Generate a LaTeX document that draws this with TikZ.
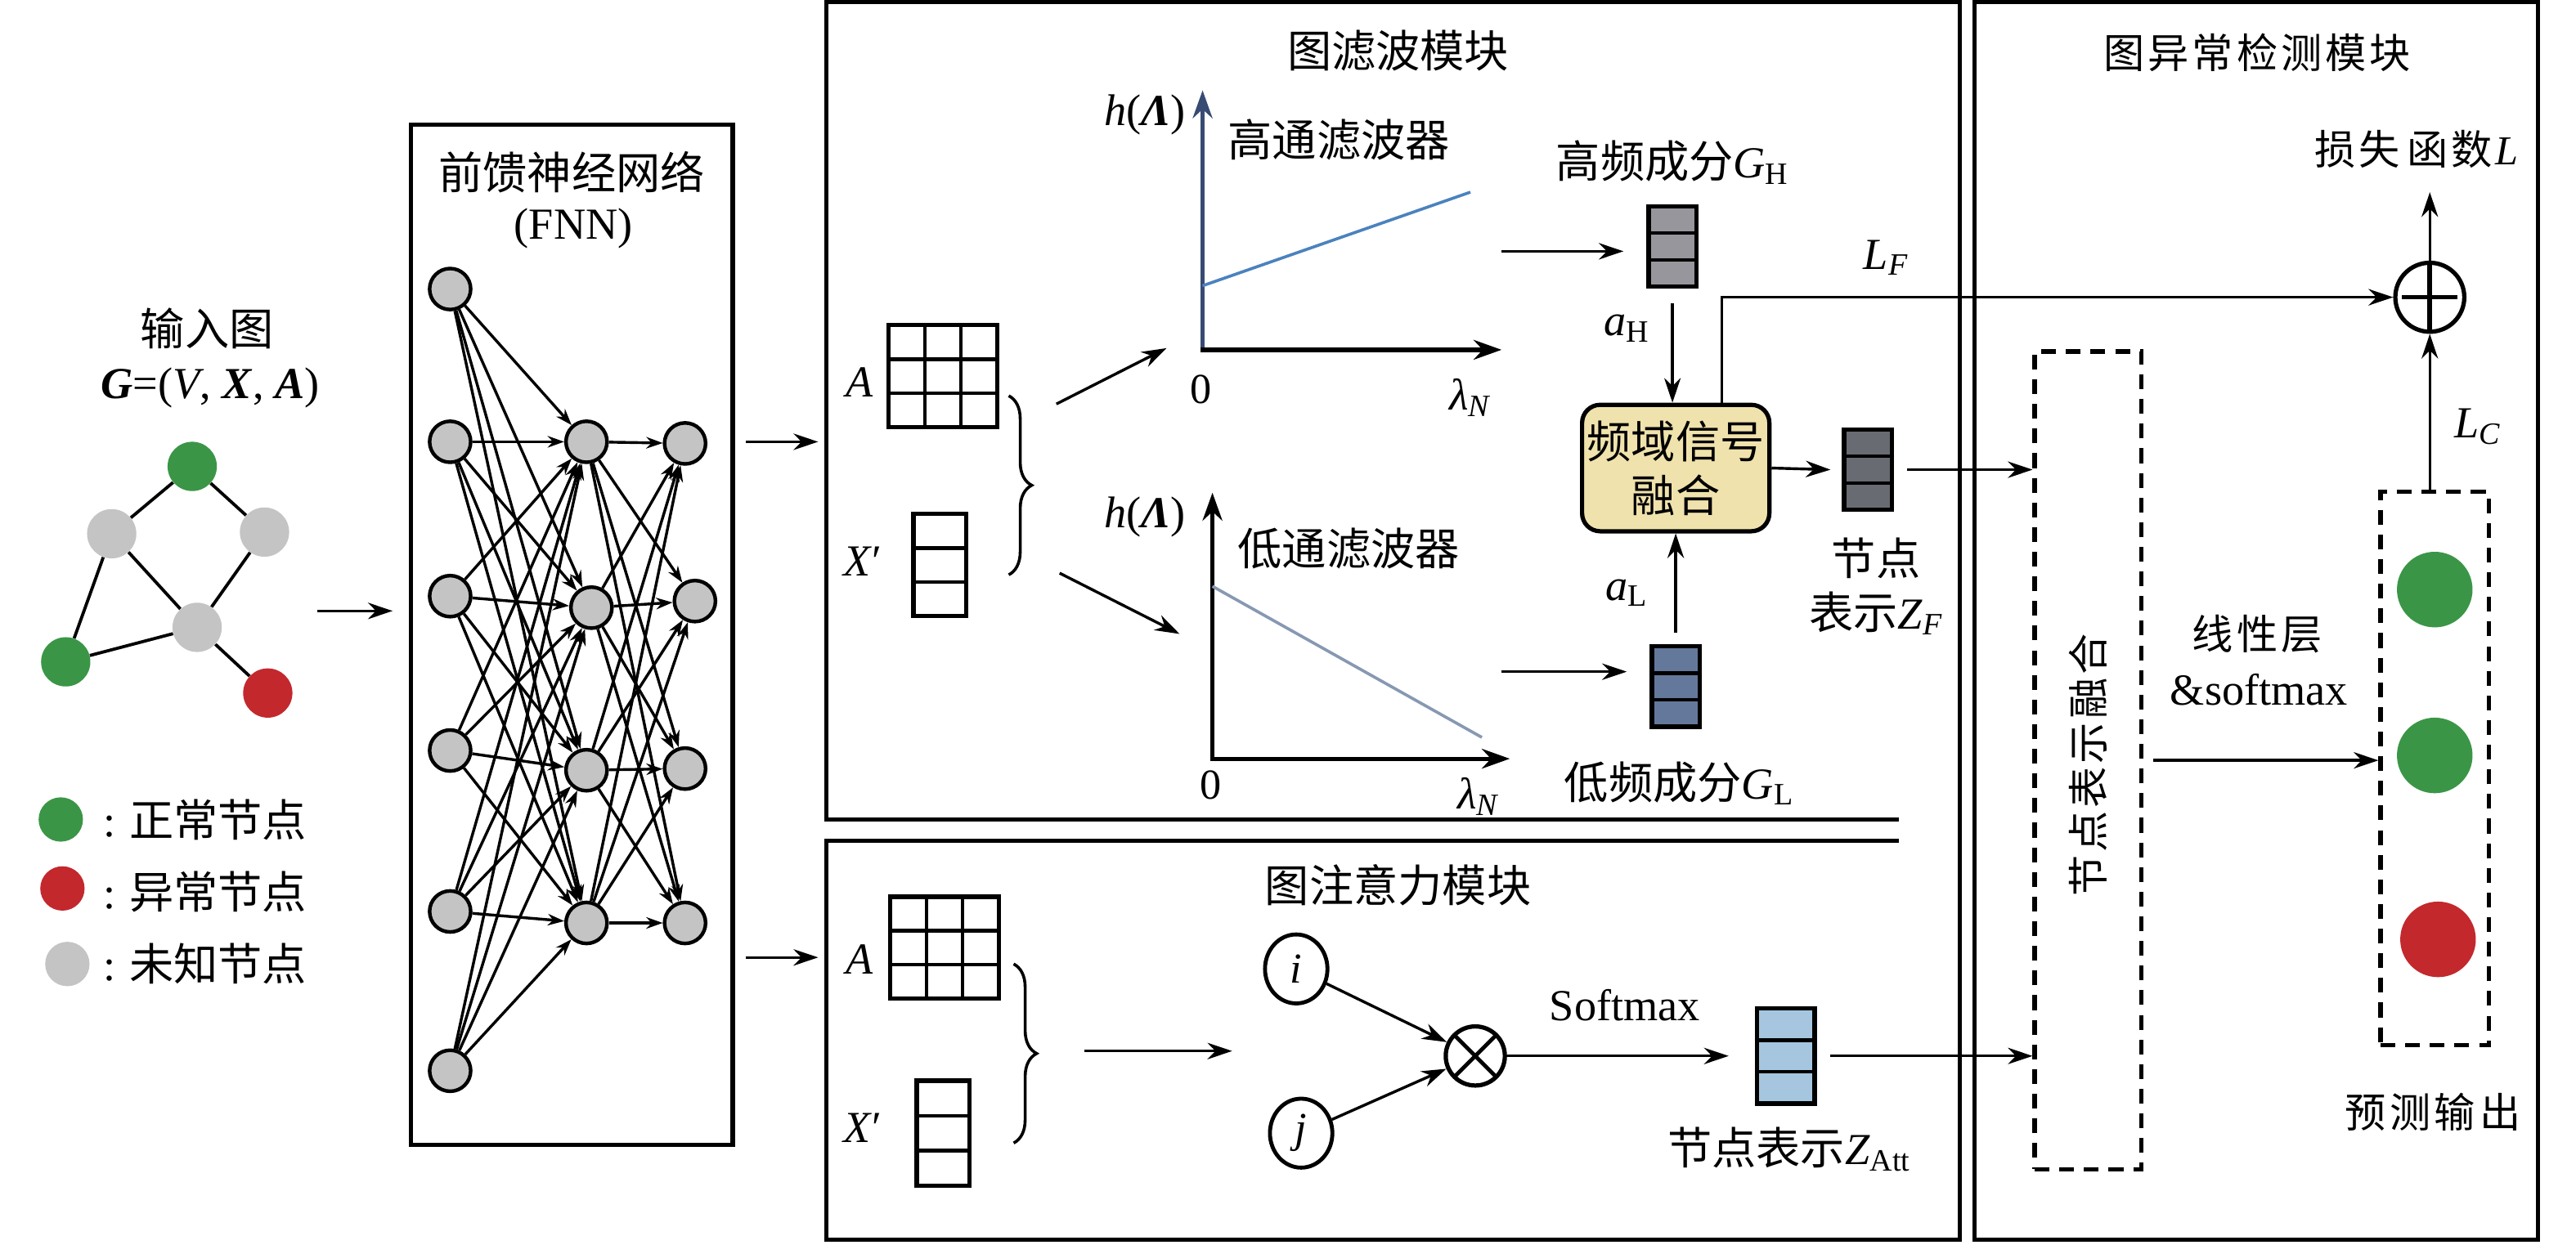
\documentclass[tikz,border=0pt]{standalone}
\usepackage{fontspec}
\setmainfont{Liberation Serif}
\newfontfamily\cjk{Noto Sans CJK SC}
\newfontfamily\cjkw{Noto Sans CJK SC}[LetterSpace=8]
\usetikzlibrary{arrows.meta,decorations.pathreplacing,calc,shapes.geometric}
\newcommand{\fsz}[1]{\fontsize{#1pt}{#1pt}\selectfont}
\definecolor{cgreen}{RGB}{58,150,70}
\definecolor{cred}{RGB}{195,40,45}
\definecolor{cgray}{RGB}{196,196,196}
\definecolor{cbeige}{RGB}{240,226,172}
\definecolor{cgh}{RGB}{150,150,156}
\definecolor{cgl}{RGB}{100,120,155}
\definecolor{czf}{RGB}{105,107,115}
\definecolor{czatt}{RGB}{165,198,222}
\definecolor{cnavy}{RGB}{55,75,115}
\definecolor{chp}{RGB}{75,130,190}
\definecolor{clp}{RGB}{135,152,178}
\tikzset{
  arr/.style={line width=1.7pt,-{Stealth[length=15pt,width=10pt]}},
  axarr/.style={line width=2.6pt,-{Stealth[length=17pt,width=12pt]}},
  narr/.style={line width=1.7pt,-{Stealth[length=10pt,width=7pt]}},
  boxln/.style={line width=2.6pt},
  gedge/.style={line width=1.9pt},
  gnode/.style={circle,inner sep=0pt,minimum size=30pt},
  fnode/.style={circle,draw,line width=2.2pt,fill=cgray,inner sep=0pt,minimum size=25pt},
  lbl/.style={inner sep=0pt,font=\fsz{27}},
  ttl/.style={inner sep=0pt,font=\fsz{27}\cjk},
  rttl/.style={inner sep=0pt,font=\fsz{25}\cjkw},
  mat/.style={draw,line width=2.6pt,minimum width=66pt,minimum height=62pt,inner sep=0pt,
    path picture={
      \foreach \t in {0.3333,0.6667}{
        \draw[line width=2.2pt] ($(path picture bounding box.north west)!\t!(path picture bounding box.north east)$) -- ($(path picture bounding box.south west)!\t!(path picture bounding box.south east)$);
        \draw[line width=2.2pt] ($(path picture bounding box.north west)!\t!(path picture bounding box.south west)$) -- ($(path picture bounding box.north east)!\t!(path picture bounding box.south east)$);
      }}},
  vec/.style={draw,line width=2.6pt,minimum width=29pt,minimum height=49pt,inner sep=0pt,
    path picture={
      \foreach \t in {0.3333,0.6667}{
        \draw[line width=2.2pt] ($(path picture bounding box.north west)!\t!(path picture bounding box.south west)$) -- ($(path picture bounding box.north east)!\t!(path picture bounding box.south east)$);
      }}},
  oplusnode/.style={circle,draw,line width=2.6pt,minimum size=42pt,inner sep=0pt,
    path picture={\draw[line width=2.8pt] ($(path picture bounding box.north)+(0,-4)$) -- ($(path picture bounding box.south)+(0,4)$) ($(path picture bounding box.west)+(4,0)$) -- ($(path picture bounding box.east)+(-4,0)$);}},
  otimesnode/.style={circle,draw,line width=2.6pt,minimum size=36pt,inner sep=0pt,
    path picture={\draw[line width=2.4pt] (path picture bounding box.north west) -- (path picture bounding box.south east) (path picture bounding box.south west) -- (path picture bounding box.north east);}},
  ijnode/.style={ellipse,draw,line width=2.4pt,minimum width=38pt,minimum height=42pt,inner sep=0pt,font=\fsz{26}\itshape},
  dbox/.style={draw,line width=2.6pt,dash pattern=on 9pt off 6pt,inner sep=0pt},
}
\begin{document}
\begin{tikzpicture}[x=1pt,y=-1pt]
\useasboundingbox (0,0) rectangle (1568,758);
\fill[white] (0,0) rectangle (1568,758);

% ---------------- input graph ----------------
\node[lbl,font=\fsz{27}\cjk] (inlab) at (126,200) {输入图};
\node[lbl] (gdef) at (128,236) {\textbf{\textit{G}}=(\textit{V}, \textbf{\textit{X}}, \textbf{\textit{A}})};
\node[gnode,fill=cgreen] (g1) at (117,284) {};
\node[gnode,fill=cgray] (g2) at (68,325) {};
\node[gnode,fill=cgray] (g3) at (161,324) {};
\node[gnode,fill=cgray] (g4) at (120,382) {};
\node[gnode,fill=cgreen] (g5) at (40,403) {};
\node[gnode,fill=cred] (g6) at (163,422) {};
\draw[gedge] (g1)--(g2) (g1)--(g3) (g2)--(g4) (g3)--(g4) (g2)--(g5) (g5)--(g4) (g4)--(g6);
\coordinate (a0s) at (193,372);
\coordinate (a0e) at (239,372);
\draw[arr] (a0s) -- (a0e);

% legend
\node[gnode,minimum size=27pt,fill=cgreen] (lg1) at (37,499) {};
\node[gnode,minimum size=27pt,fill=cred] (lg2) at (38,541) {};
\node[gnode,minimum size=27pt,fill=cgray] (lg3) at (41,587) {};
\node[lbl,anchor=west] (lt1) at (63,499) {:\hspace{8pt}{\cjk 正常节点}};
\node[lbl,anchor=west] (lt2) at (63,543) {:\hspace{8pt}{\cjk 异常节点}};
\node[lbl,anchor=west] (lt3) at (63,587) {:\hspace{8pt}{\cjk 未知节点}};

% ---------------- FNN ----------------
\draw[boxln] (250,76) rectangle (446,697);
\node[ttl] (fnnt1) at (348,105) {前馈神经网络};
\node[lbl] (fnnt2) at (349,139) {(FNN)};
\foreach \y [count=\i] in {176,269,363,457,555,652} \node[fnode] (a\i) at (274,\y) {};
\foreach \x/\y [count=\i] in {357/269,360/370,357/469,357/562} \node[fnode] (b\i) at (\x,\y) {};
\foreach \x/\y [count=\i] in {417/270,423/366,417/468,417/562} \node[fnode] (c\i) at (\x,\y) {};
\foreach \i in {1,...,6}{\foreach \j in {1,...,4}{\draw[narr] (a\i) -- (b\j);}}
\foreach \i in {1,...,4}{\foreach \j in {1,...,4}{\draw[narr] (b\i) -- (c\j);}}
\coordinate (f1s) at (454,269); \coordinate (f1e) at (498,269);
\coordinate (f2s) at (454,583); \coordinate (f2e) at (498,583);
\draw[arr] (f1s) -- (f1e);
\draw[arr] (f2s) -- (f2e);

% ---------------- module frames ----------------
\draw[boxln] (1156,1) -- (503,1) -- (503,499) -- (1156,499);
\draw[boxln] (1156,1) -- (1193,1) -- (1193,755) -- (503,755) -- (503,512) -- (1156,512);
\draw[boxln] (1202,1) rectangle (1545,755);
\node[ttl] (t1) at (851,31) {图滤波模块};
\node[ttl] (t2) at (851,539) {图注意力模块};
\node[rttl] (t3) at (1374,32) {图异常检测模块};

% ---------------- graph filter module ----------------
\node[mat] (matA1) at (574,229) {};
\node[lbl,font=\fsz{27}\itshape] (labA1) at (523,233) {A};
\node[vec,minimum width=32pt,minimum height=62pt] (vX1) at (572,344) {};
\node[lbl] (labX1) at (525,342) {\textit{X}′};
\coordinate (br1t) at (614,241);
\coordinate (br1b) at (614,350);
\draw[line width=1.8pt,decorate,decoration={brace,amplitude=14pt}] (br1t) -- (br1b);
\coordinate (bu1) at (643,246); \coordinate (bu2) at (710,212);
\coordinate (bd1) at (645,349); \coordinate (bd2) at (718,386);
\draw[arr] (bu1) -- (bu2);
\draw[arr] (bd1) -- (bd2);

% high-pass plot
\coordinate (hpO) at (732,213);
\coordinate (hpY) at (732,55);
\coordinate (hpX) at (914,213);
\draw[axarr,cnavy] (hpO) -- (hpY);
\draw[axarr] ($(hpO)+(-1.3,0)$) -- (hpX);
\coordinate (hp1) at (732,174); \coordinate (hp2) at (895,117);
\draw[line width=1.8pt,chp] (hp1) -- (hp2);
\node[lbl] (hph) at (697,70) {\textit{h}(\textbf{\textit{Λ}})};
\node[ttl] (hpt) at (815,85) {高通滤波器};
\node[lbl,font=\fsz{26}] (hp0) at (731,237) {0};
\node[lbl] (hpl) at (895,242) {\textit{λ}\textsubscript{\textit{N}}};

% low-pass plot
\coordinate (lpO) at (738,462);
\coordinate (lpY) at (738,300);
\coordinate (lpX) at (919,462);
\draw[axarr] (lpO) -- (lpY);
\draw[axarr] ($(lpO)+(-1.3,0)$) -- (lpX);
\coordinate (lp1) at (738,357); \coordinate (lp2) at (902,449);
\draw[line width=1.8pt,clp] (lp1) -- (lp2);
\node[lbl] (lph) at (697,315) {\textit{h}(\textbf{\textit{Λ}})};
\node[ttl] (lpt) at (821,334) {低通滤波器};
\node[lbl,font=\fsz{26}] (lp0) at (737,478) {0};
\node[lbl] (lpl) at (900,485) {\textit{λ}\textsubscript{\textit{N}}};

% components
\node[vec,fill=cgh] (gh) at (1018,150) {};
\node[vec,fill=cgl] (gl) at (1020,418) {};
\node[lbl] (ghlab) at (1018,99) {{\cjk 高频成分}\textit{G}\textsubscript{H}};
\node[lbl] (gllab) at (1022,477) {{\cjk 低频成分}\textit{G}\textsubscript{L}};
\coordinate (hpo) at (914,153);
\coordinate (lpo) at (914,409);
\draw[arr] (hpo) -- ($(gh.west |- hpo)+(-14,0)$);
\draw[arr] (lpo) -- ($(gl.west |- lpo)+(-14,0)$);

\node[draw,line width=2.6pt,rounded corners=11pt,fill=cbeige,minimum width=114pt,minimum height=77pt,inner sep=0pt,align=center,font=\fsz{27}\cjk] (fus) at (1020,285) {频域信号\\[6pt]融合};
\draw[arr,shorten <=9pt] (gh.south) -- (fus.north -| gh.south);
\draw[arr,shorten <=7pt] (gl.north) -- (fus.south -| gl.north);
\node[lbl] (aH) at (990,200) {\textit{a}\textsubscript{H}};
\node[lbl] (aL) at (990,361) {\textit{a}\textsubscript{L}};

\node[vec,fill=czf] (zf) at (1137,286) {};
\draw[arr] (fus.east) -- ($(zf.west)+(-7,0)$);
\node[lbl,align=center] (zflab) at (1142,357) {{\cjk 节点}\\[6pt]{\cjk 表示}\textit{Z}\textsubscript{\textit{F}}};

% ---------------- attention module ----------------
\node[mat] (matA2) at (575,577) {};
\node[lbl,font=\fsz{27}\itshape] (labA2) at (523,584) {A};
\node[vec,minimum width=32pt,minimum height=64pt] (vX2) at (574,690) {};
\node[lbl] (labX2) at (525,687) {\textit{X}′};
\coordinate (br2t) at (617,587);
\coordinate (br2b) at (617,696);
\draw[line width=1.8pt,decorate,decoration={brace,amplitude=14pt}] (br2t) -- (br2b);
\coordinate (at1) at (660,640); \coordinate (at2) at (750,640);
\draw[arr] (at1) -- (at2);
\node[ijnode] (ni) at (789,590) {i};
\node[ijnode] (nj) at (792,690) {j};
\node[otimesnode] (ot) at (898,643) {};
\draw[arr] (ni) -- (ot);
\draw[arr] (nj) -- (ot);
\node[vec,fill=czatt,minimum width=35pt,minimum height=58pt] (zatt) at (1087,643) {};
\draw[arr] (ot.east) -- ($(zatt.west)+(-16,0)$);
\node[lbl] (smx) at (989,612) {Softmax};
\node[lbl] (zattlab) at (1089,700) {{\cjk 节点表示}\textit{Z}\textsubscript{Att}};

% ---------------- anomaly detection module ----------------
\node[dbox,minimum width=65pt,minimum height=498pt] (fbox) at (1271,463) {};
\node[rttl,rotate=90] (fboxlab) at (1271,466) {节点表示融合};
\node[dbox,minimum width=66pt,minimum height=337pt] (pbox) at (1482,468) {};
\node[gnode,minimum size=46pt,fill=cgreen] (p1) at (1482,359) {};
\node[gnode,minimum size=46pt,fill=cgreen] (p2) at (1482,460) {};
\node[gnode,minimum size=46pt,fill=cred] (p3) at (1484,572) {};
\node[rttl] (plab) at (1481,677) {预测输\hspace{3pt}出};
\node[oplusnode] (plus) at (1479,181) {};
\coordinate (lossp) at (1479,117);
\node[rttl] (loss) at (1471,91) {损失\hspace{4pt}函数\textit{\rmfamily L}};
\draw[arr] (plus.north) -- (lossp);
\draw[arr] (pbox.north -| plus) -- (plus.south);
\node[lbl] (lc) at (1508,260) {\textit{L}\textsubscript{\textit{C}}};
\coordinate (lf0) at (1048,247);
\draw[arr] (lf0) |- (plus.west);
\node[lbl] (lf) at (1148,157) {\textit{L}\textsubscript{\textit{F}}};
\draw[arr,shorten <=8pt] (zf.east) -- (zf.east -| fbox.west);
\draw[arr,shorten <=8pt] (zatt.east) -- (zatt.east -| fbox.west);
\draw[arr,shorten <=6pt] (fbox.east) -- (fbox.east -| pbox.west);
\node[rttl] (lin1) at (1374,386) {线性层};
\node[lbl] (lin2) at (1375,420) {\&softmax};
\end{tikzpicture}
\end{document}
